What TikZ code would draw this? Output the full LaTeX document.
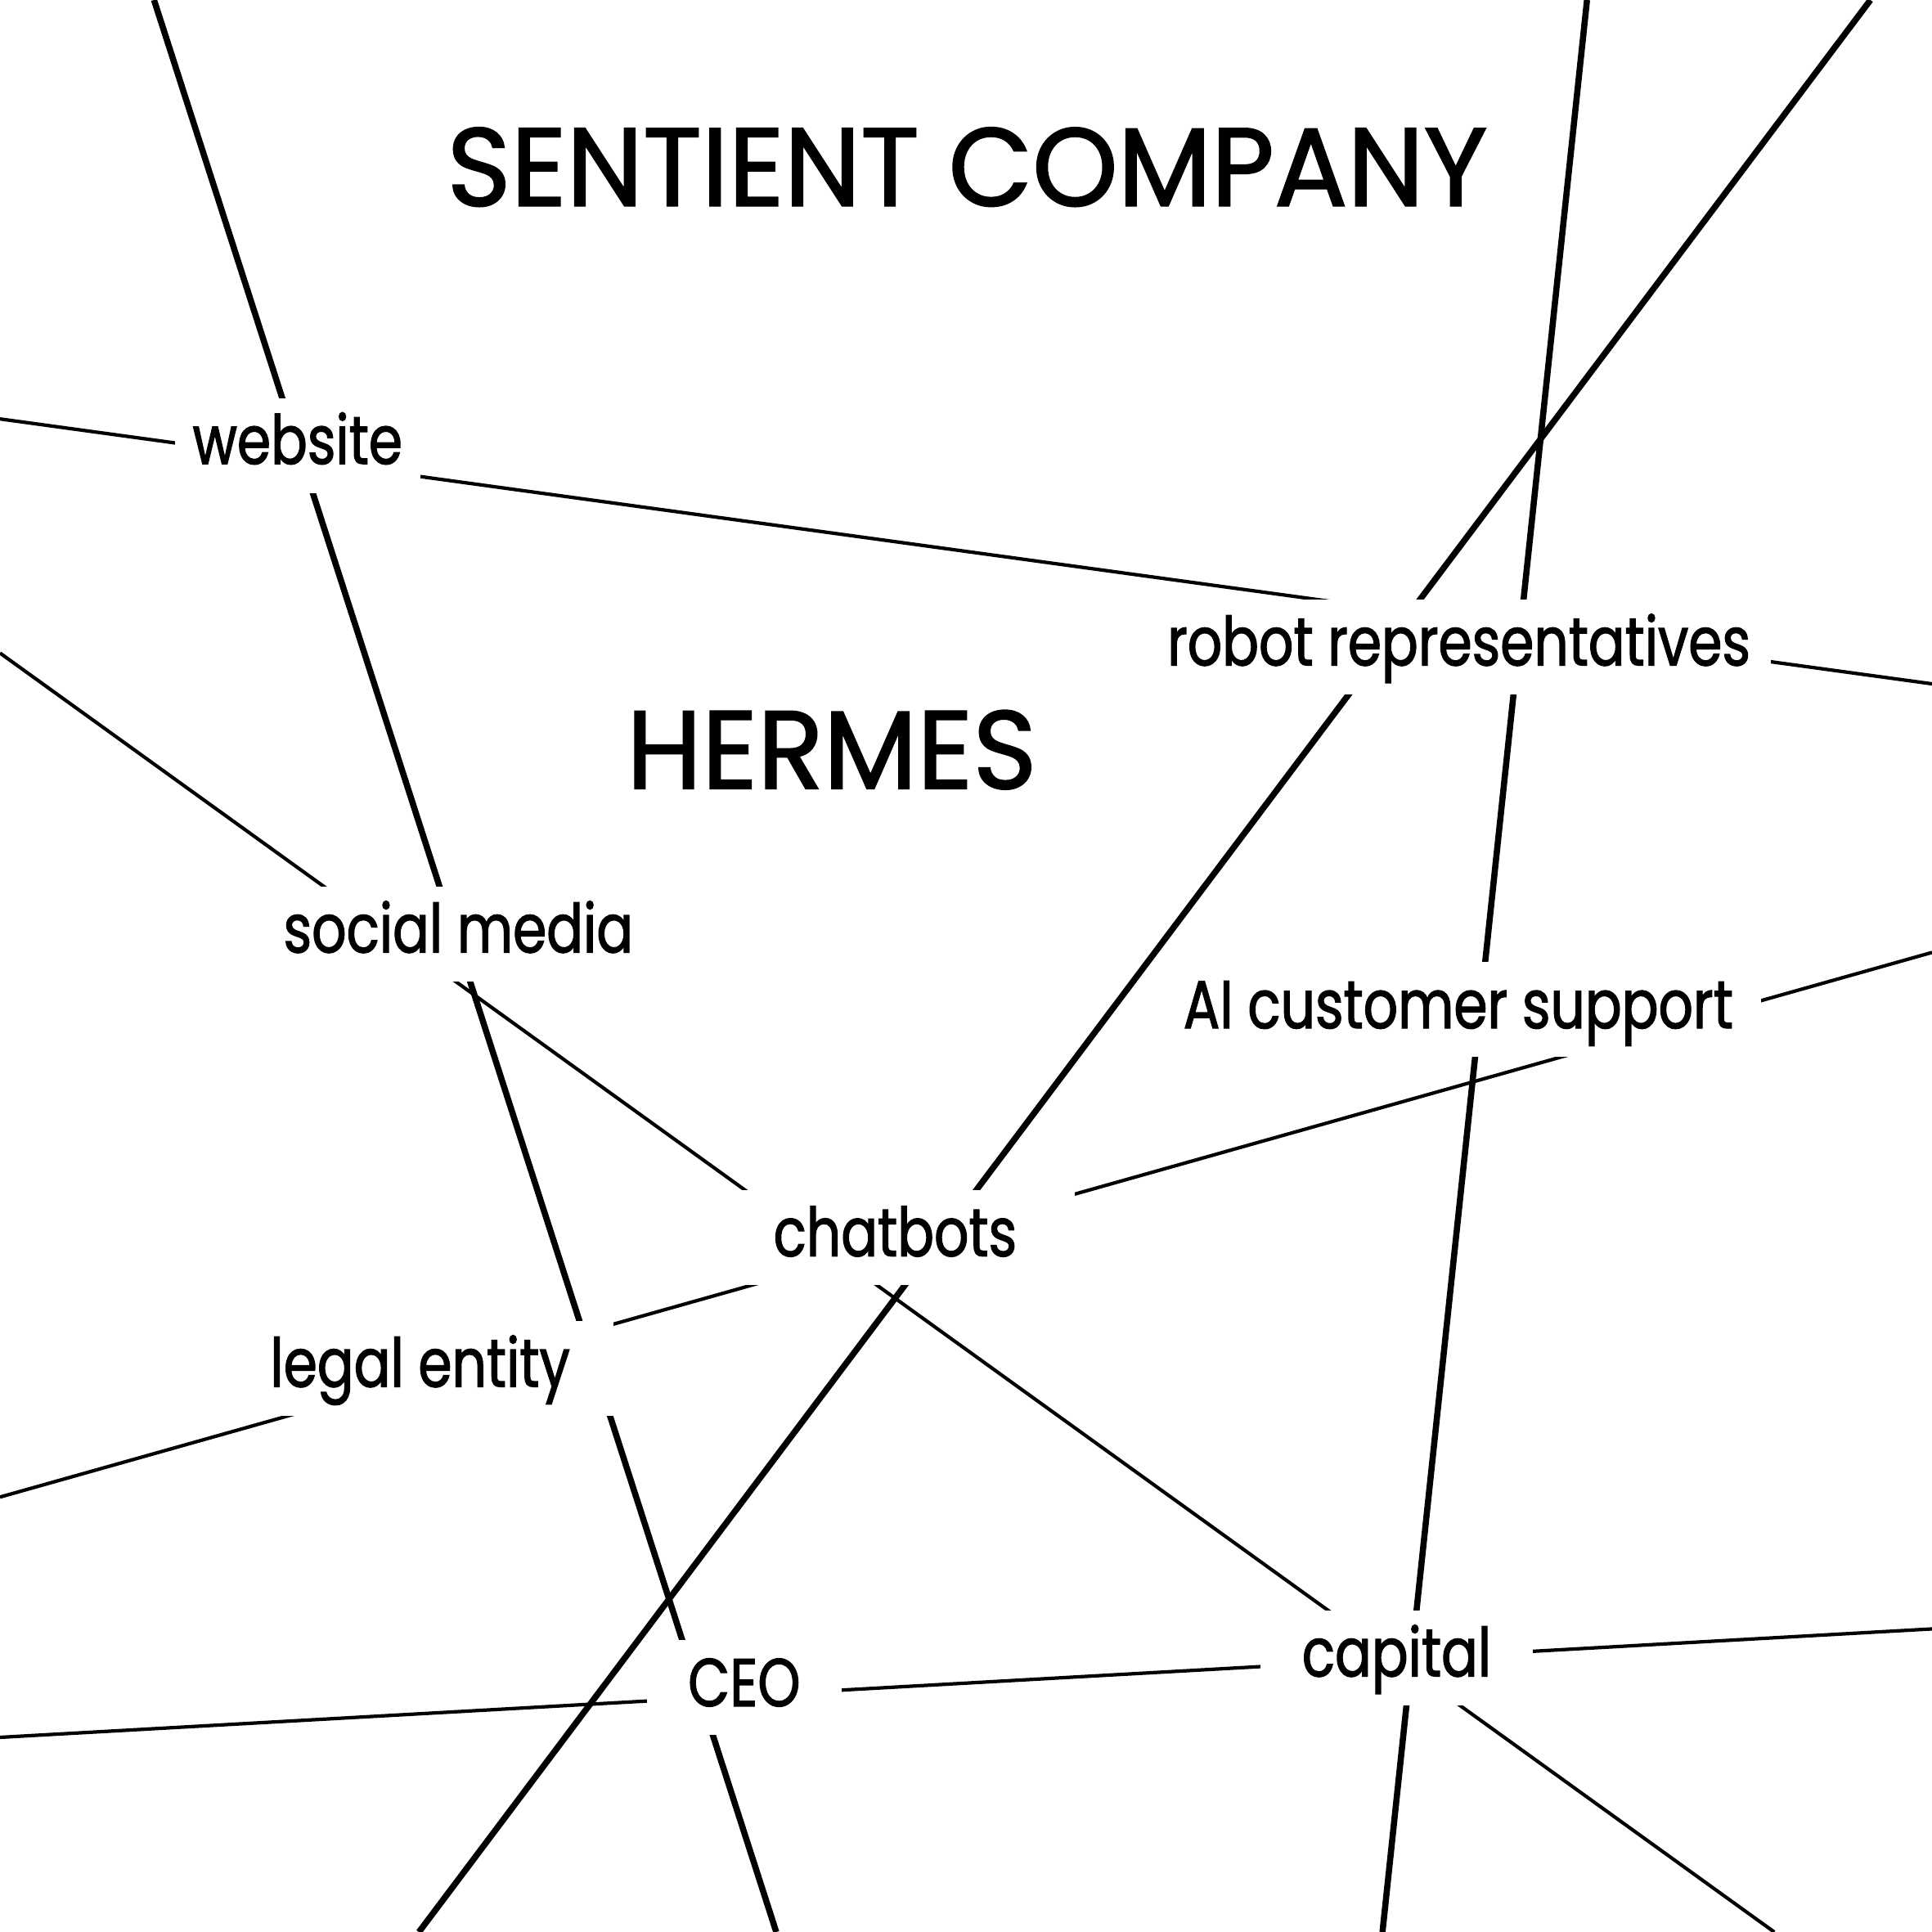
\documentclass[tikz,border=0pt]{standalone}
\usepackage{fontspec}
\setmainfont{Poppins}[FakeStretch=0.80, FakeBold=1.5]
\newfontfamily\headfont{Poppins}[FakeStretch=0.98, FakeBold=1.5]
\begin{document}
\begin{tikzpicture}[
  x=0.5pt, y=-0.5pt,
  thin link/.style={line width=1.4pt},
  thick link/.style={line width=2.5pt},
  term/.style={fill=white, inner sep=0pt, minimum height=38.5pt,
    minimum width=#1*0.5pt, text height=19pt, text depth=4pt,
    font=\fontsize{27.5}{33}\selectfont},
  heading/.style={anchor=base, font=\headfont\fontsize{45}{54}\selectfont}
]
\useasboundingbox (0,0) rectangle (1568,1568);
\clip (0,0) rectangle (1568,1568);
% ends of the lines on the border
\coordinate (a1) at (125,0);    \coordinate (b1) at (630,1568);
\coordinate (a2) at (1288,0);   \coordinate (b2) at (1122,1568);
\coordinate (a3) at (1518,0);   \coordinate (b3) at (340,1568);
\coordinate (a4) at (0,340);    \coordinate (b4) at (1568,555);
\coordinate (a5) at (0,530);    \coordinate (b5) at (1440,1568);
\coordinate (a6) at (1568,773); \coordinate (b6) at (0,1215);
\coordinate (a7) at (0,1410);   \coordinate (b7) at (1568,1322);
\foreach \p/\q/\w in {a1/b1/thick link, a2/b2/thick link, a3/b3/thick link,
    a4/b4/thin link, a5/b5/thin link, a6/b6/thin link, a7/b7/thin link}
  \draw[\w] (\p) -- (\q);
% labels on top of the lines
\node[term=199] (website) at (241.5,361.5) {website};
\node[term=506] (robots) at (1184,525) {robot representatives};
\node[term=320] (social) at (372,758) {social media};
\node[term=491] (support) at (1183.5,819.5) {AI customer support};
\node[term=291] (chatbots) at (726.5,1004.5) {chatbots};
\node[term=314] (legal) at (341,1110.5) {legal entity};
\node[term=221] (capital) at (1133.5,1345.5) {capital};
\node[term=158] (ceo) at (604,1369.75) {CEO};
\node[heading] (company) at (785,167) {SENTIENT COMPANY};
\node[heading] (hermes) at (675,640) {HERMES};
\end{tikzpicture}
\end{document}
